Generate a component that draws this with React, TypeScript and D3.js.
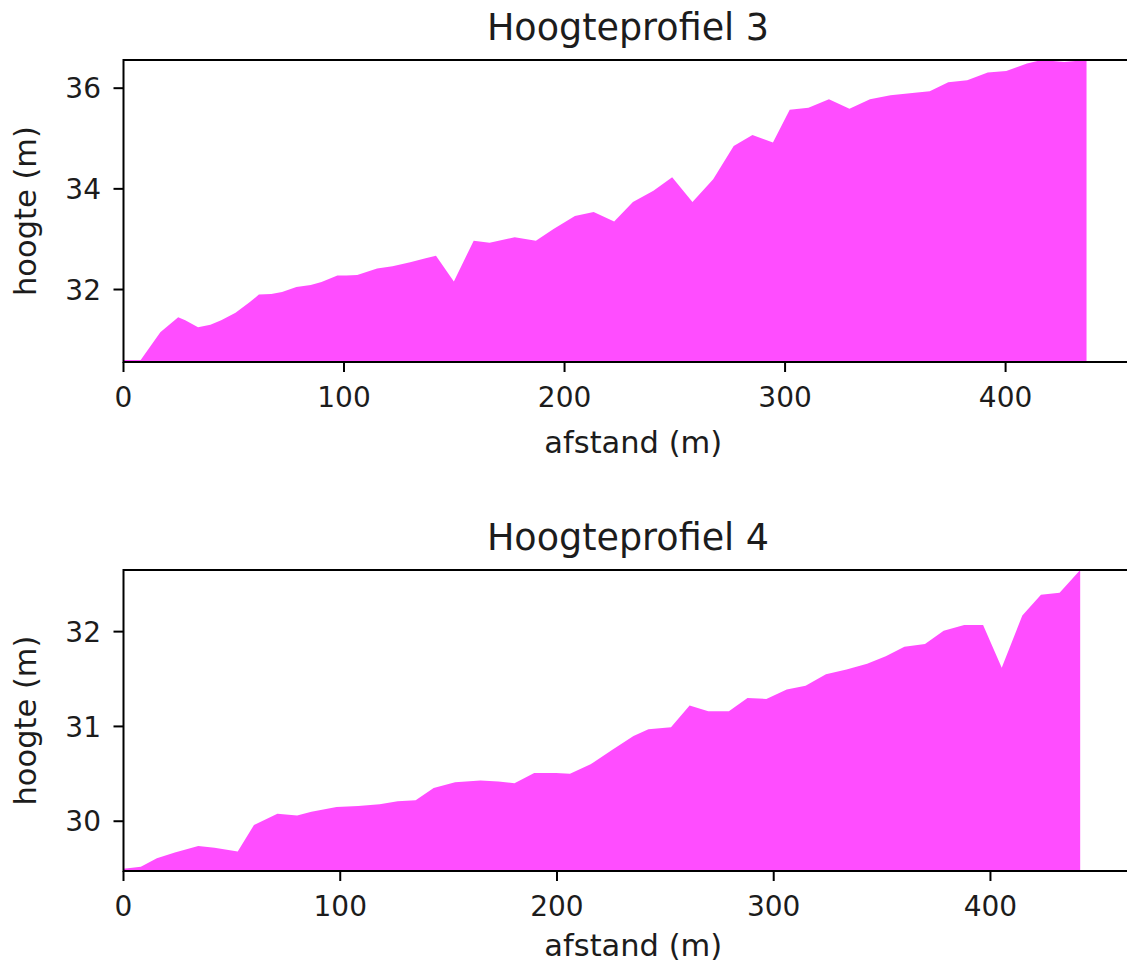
import React from "react";
import * as d3 from "d3";

// ---- data ----
const dist3 = [0, 7.8, 16.7, 24.8, 28, 33.8, 39.4, 44.3, 50.8, 57.3, 61.4, 67, 71.9, 78.4, 84.9, 89.8, 97, 101, 106, 115, 122, 130, 137, 141.7, 149.8, 158.8, 166, 177.4, 187, 195, 204.7, 213.2, 222.5, 231, 240.3, 248.8, 258, 267.4, 276.7, 285.2, 294.5, 302.1, 310.6, 319.9, 329.2, 338.5, 347.8, 358.8, 365.6, 374, 382.6, 391.9, 400.3, 409.7, 416.4, 426.6, 436.7];
const height3 = [30.6, 30.6, 31.15, 31.45, 31.39, 31.25, 31.3, 31.39, 31.54, 31.75, 31.9, 31.91, 31.95, 32.05, 32.09, 32.15, 32.28, 32.28, 32.29, 32.42, 32.46, 32.54, 32.62, 32.67, 32.16, 32.97, 32.93, 33.04, 32.97, 33.2, 33.46, 33.54, 33.35, 33.74, 33.96, 34.23, 33.74, 34.19, 34.85, 35.07, 34.92, 35.57, 35.61, 35.78, 35.59, 35.78, 35.86, 35.91, 35.94, 36.12, 36.16, 36.31, 36.34, 36.49, 36.56, 36.52, 36.56];

const dist4 = [0, 8, 15.4, 23.7, 34.5, 42, 52.7, 60.2, 71, 80.1, 86.7, 98.3, 108.3, 118.2, 126.5, 134.8, 143.1, 153, 164.7, 173, 180.4, 189.5, 199.5, 206, 215.5, 225.9, 235.3, 242.2, 252.6, 261.2, 269.8, 279.3, 287.9, 296.6, 306, 314.7, 324.1, 333.6, 343.1, 351.7, 360.3, 369.8, 378.4, 387.9, 396.6, 405.2, 414.7, 423.3, 431.9, 441.4];
const height4 = [29.5, 29.52, 29.61, 29.67, 29.74, 29.72, 29.68, 29.96, 30.08, 30.06, 30.1, 30.15, 30.16, 30.18, 30.21, 30.22, 30.35, 30.41, 30.43, 30.42, 30.4, 30.51, 30.51, 30.5, 30.6, 30.76, 30.9, 30.97, 30.99, 31.22, 31.16, 31.16, 31.3, 31.29, 31.39, 31.43, 31.55, 31.6, 31.66, 31.74, 31.84, 31.87, 32.01, 32.07, 32.07, 31.62, 32.17, 32.39, 32.41, 32.65];

const xTicks = [0, 100, 200, 300, 400];
const yTicks3 = [32, 34, 36];
const yTicks4 = [30, 31, 32];
const xDomain3 = [0, 458];
const xDomain4 = [0, 466];
const yDomain3 = [30.56, 36.56];
const yDomain4 = [29.475, 32.65];

const titles = ["Hoogteprofiel 3", "Hoogteprofiel 4"];
const xLabel = "afstand (m)";
const yLabel = "hoogte (m)";

const FONT = "DejaVu Sans, sans-serif";
const TEXT = "#1c1c1c";
const FILL = "#ff4dff";

type PanelProps = {
  dist: number[];
  height: number[];
  xDomain: number[];
  yDomain: number[];
  yTicks: number[];
  title: string;
  top: number;
  bottom: number;
  labelOffset: number;
};

function Panel({ dist, height, xDomain, yDomain, yTicks, title, top, bottom, labelOffset }: PanelProps) {
  const left = 123.5;
  const width = 1010;
  const x = d3.scaleLinear().domain(xDomain).range([left, left + width]);
  const y = d3.scaleLinear().domain(yDomain).range([bottom, top]);
  const pts = dist.map((d, i) => [d, height[i]] as [number, number]);
  const area = d3
    .area<[number, number]>()
    .x((p) => x(p[0]))
    .y0(() => y(yDomain[0]))
    .y1((p) => y(p[1]));
  const tickLen = 10;
  return (
    <g>
      <path d={area(pts) ?? ""} fill={FILL} stroke="none" />
      {/* spines */}
      <rect x={left} y={top} width={width} height={bottom - top} fill="none" stroke="#000" strokeWidth={2} />
      {/* x ticks */}
      {xTicks.map((t) => (
        <g key={"x" + t}>
          <line x1={x(t)} x2={x(t)} y1={bottom} y2={bottom + tickLen} stroke="#000" strokeWidth={2} />
          <text x={x(t)} y={bottom + 45} textAnchor="middle" fontFamily={FONT} fontSize={28} fill={TEXT}>
            {t}
          </text>
        </g>
      ))}
      {/* y ticks */}
      {yTicks.map((t) => (
        <g key={"y" + t}>
          <line x1={left - tickLen} x2={left} y1={y(t)} y2={y(t)} stroke="#000" strokeWidth={2} />
          <text x={101} y={y(t) + 28 * 0.36} textAnchor="end" fontFamily={FONT} fontSize={28} fill={TEXT}>
            {t}
          </text>
        </g>
      ))}
      <text x={(left + 1127) / 2 + 8} y={bottom + labelOffset} textAnchor="middle" fontFamily={FONT} fontSize={30.5} fill={TEXT}>
        {xLabel}
      </text>
      <text
        transform={`translate(36, ${(top + bottom) / 2}) rotate(-90)`}
        textAnchor="middle"
        fontFamily={FONT}
        fontSize={30.5}
        fill={TEXT}
      >
        {yLabel}
      </text>
      <text x={628} y={top - 20} textAnchor="middle" fontFamily={FONT} fontSize={36.5} fill={TEXT}>
        {title}
      </text>
    </g>
  );
}

export default function App() {
  return (
    <svg
      width={1127}
      height={965}
      style={{ position: "absolute", left: 0, top: 0, background: "#fff", overflow: "hidden" }}
    >
      <rect x={0} y={0} width={1127} height={965} fill="#fff" />
      <Panel dist={dist3} height={height3} xDomain={xDomain3} yDomain={yDomain3} yTicks={yTicks3} title={titles[0]} top={60} bottom={362} labelOffset={91} />
      <Panel dist={dist4} height={height4} xDomain={xDomain4} yDomain={yDomain4} yTicks={yTicks4} title={titles[1]} top={570} bottom={871} labelOffset={85} />
    </svg>
  );
}
